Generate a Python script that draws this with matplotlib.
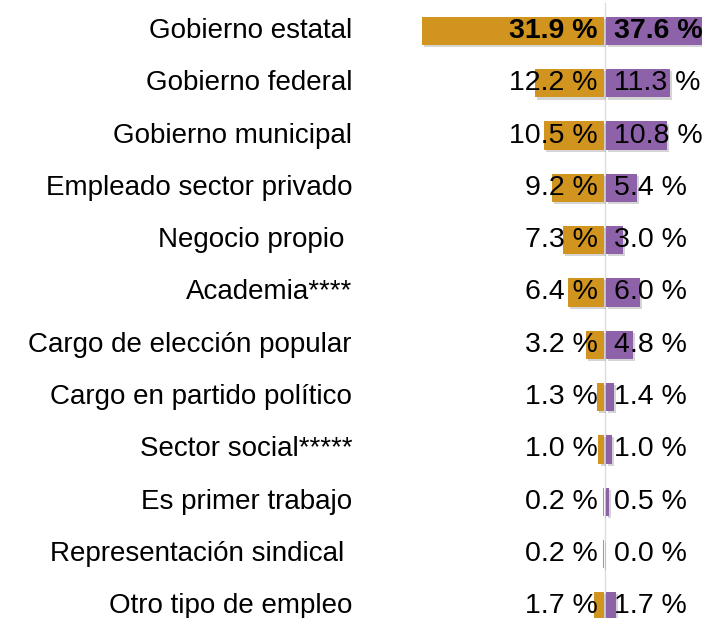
import matplotlib
matplotlib.use("Agg")
import matplotlib.pyplot as plt
import matplotlib.patheffects as pe

categorias = ["Gobierno estatal", "Gobierno federal", "Gobierno municipal",
              "Empleado sector privado", "Negocio propio ", "Academia****",
              "Cargo de elección popular", "Cargo en partido político",
              "Sector social*****", "Es primer trabajo", "Representación sindical ",
              "Otro tipo de empleo"]
izq = [31.9, 12.2, 10.5, 9.2, 7.3, 6.4, 3.2, 1.3, 1.0, 0.2, 0.2, 1.7]
der = [37.6, 11.3, 10.8, 5.4, 3.0, 6.0, 4.8, 1.4, 1.0, 0.5, 0.0, 1.7]

naranja = "#D0941F"
morado = "#8E62A8"

plt.rcParams['font.family'] = ['Liberation Sans', 'DejaVu Sans']

fig = plt.figure(figsize=(7.02, 6.18), dpi=100)
ax = fig.add_axes([0, 0, 1, 1])
ax.axis("off")

px = 5.7  # pixels per percent
ax.set_xlim(-605 / px, (702 - 605) / px)
ax.set_ylim((618 - 31) / 52.3, -31 / 52.3)

ax.axvline(0, color="#dddddd", lw=1, zorder=0, ymin=0, ymax=0.995)

sombra = [pe.SimplePatchShadow(offset=(1.5, -1.5), shadow_rgbFace="#888888", alpha=0.35), pe.Normal()]
filas = range(len(categorias))
b1 = ax.barh(filas, [-v for v in izq], height=0.54, color=naranja, left=-0.15, zorder=2)
b2 = ax.barh(filas, der, height=0.54, color=morado, left=0.15, zorder=2)
for b in list(b1) + list(b2):
    b.set_path_effects(sombra)

for i, (c, a, b) in enumerate(zip(categorias, izq, der)):
    peso = "bold" if i == 0 else "normal"
    ax.text(-(605 - 352) / px, i, c, ha="right", va="center", fontsize=20)
    ax.text(-1.3, i, f"{a:.1f} %", ha="right", va="center", fontsize=20.5,
            fontweight=peso, zorder=3)
    ax.text(1.6, i, f"{b:.1f} %", ha="left", va="center", fontsize=20.5,
            fontweight=peso, zorder=3)

fig.savefig("out.png", dpi=100)
